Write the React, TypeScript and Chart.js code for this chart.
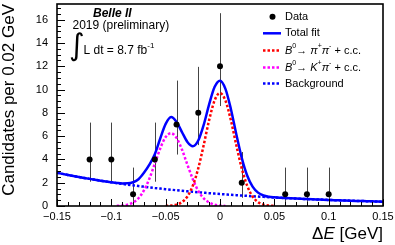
import { useEffect, useRef } from "react";
import { Chart, registerables } from "chart.js";

Chart.register(...registerables);

const FONT = '"Liberation Sans", Arial, Helvetica, sans-serif';

// Data points (bin centres, counts, Poisson 68% interval)
const dataX = [-0.12, -0.1, -0.08, -0.06, -0.04, -0.02, 0, 0.02, 0.06, 0.08, 0.1];
const dataY = [4, 4, 1, 4, 7, 8, 12, 2, 1, 1, 1];
const errLo = [2.086, 2.086, 0.173, 2.086, 4.419, 5.232, 8.585, 0.708, 0.173, 0.173, 0.173];
const errHi = [7.163, 7.163, 3.3, 7.163, 10.77, 11.95, 16.56, 4.638, 3.3, 3.3, 3.3];

// Fit curves
const curveX = [-0.15, -0.145, -0.14, -0.135, -0.13, -0.125, -0.12, -0.115, -0.11, -0.105, -0.1, -0.095, -0.09, -0.085, -0.08, -0.075, -0.07, -0.065, -0.06, -0.055, -0.05, -0.045, -0.04, -0.035, -0.03, -0.025, -0.02, -0.015, -0.01, -0.005, 0, 0.005, 0.01, 0.015, 0.02, 0.025, 0.03, 0.035, 0.04, 0.045, 0.05, 0.055, 0.06, 0.065, 0.07, 0.075, 0.08, 0.085, 0.09, 0.095, 0.1, 0.105, 0.11, 0.115, 0.12, 0.125, 0.13, 0.135, 0.14, 0.145, 0.15];
const totalY = [2.856, 2.761, 2.669, 2.579, 2.493, 2.41, 2.329, 2.251, 2.176, 2.104, 2.036, 1.977, 1.938, 1.945, 2.04, 2.3, 2.85, 3.55, 4.45, 5.8, 7.05, 7.64, 7.22, 6.35, 5.5, 5.129, 5.623, 6.964, 8.731, 10.22, 10.763, 10.063, 8.335, 6.162, 4.136, 2.615, 1.661, 1.149, 0.905, 0.795, 0.743, 0.709, 0.685, 0.662, 0.64, 0.619, 0.598, 0.578, 0.559, 0.54, 0.522, 0.504, 0.488, 0.471, 0.455, 0.44, 0.426, 0.411, 0.398, 0.384, 0.371];
const bkgY = [2.856, 2.761, 2.669, 2.579, 2.493, 2.41, 2.329, 2.251, 2.176, 2.103, 2.033, 1.965, 1.899, 1.836, 1.775, 1.715, 1.658, 1.602, 1.549, 1.497, 1.447, 1.399, 1.352, 1.307, 1.263, 1.221, 1.18, 1.141, 1.102, 1.066, 1.03, 0.996, 0.962, 0.93, 0.899, 0.869, 0.84, 0.812, 0.785, 0.758, 0.733, 0.709, 0.685, 0.662, 0.64, 0.619, 0.598, 0.578, 0.559, 0.54, 0.522, 0.504, 0.488, 0.471, 0.455, 0.44, 0.426, 0.411, 0.398, 0.384, 0.371];
const piPiX = [-0.05, -0.045, -0.04, -0.035, -0.03, -0.025, -0.02, -0.015, -0.01, -0.005, 0, 0.005, 0.01, 0.015, 0.02, 0.025, 0.03, 0.035, 0.04, 0.045, 0.05];
const piPiY = [0.01, 0.037, 0.12, 0.337, 0.821, 1.746, 3.237, 5.232, 7.373, 9.057, 9.7, 9.057, 7.373, 5.232, 3.237, 1.746, 0.821, 0.337, 0.12, 0.037, 0.01];
const kPiX = [-0.095, -0.09, -0.085, -0.08, -0.075, -0.07, -0.065, -0.06, -0.055, -0.05, -0.045, -0.04, -0.035, -0.03, -0.025, -0.02, -0.015, -0.01, -0.005, 0, 0.005];
const kPiY = [0.012, 0.039, 0.114, 0.295, 0.669, 1.335, 2.346, 3.628, 4.941, 5.921, 6.248, 5.85, 4.85, 3.55, 2.3, 1.3, 0.66, 0.3, 0.11, 0.035, 0.01];

// Axes
const xMin = -0.15;
const xMax = 0.15;
const yMin = 0;
const yMax = 17.35;
const xTicks = [-0.15, -0.1, -0.05, 0, 0.05, 0.1, 0.15];
const xTickLabels = ["\u22120.15", "\u22120.1", "\u22120.05", "0", "0.05", "0.1", "0.15"];
const yTicks = [0, 2, 4, 6, 8, 10, 12, 14, 16];
const yTickLabels = ["0", "2", "4", "6", "8", "10", "12", "14", "16"];
const xMinorStep = 0.01;
const yMinorStep = 0.5;

type Seg = { t: string; it?: boolean; sup?: boolean; b?: boolean };

function drawRich(ctx: CanvasRenderingContext2D, x: number, y: number, segs: Seg[], size: number, measureOnly = false) {
  let cx = x;
  for (const s of segs) {
    const fs = s.sup ? Math.round(size * 0.68) : size;
    ctx.font = `${s.it ? "italic " : ""}${s.b ? "bold " : ""}${fs}px ${FONT}`;
    const dy = s.sup ? -size * 0.42 : 0;
    if (!measureOnly) ctx.fillText(s.t, cx, y + dy);
    cx += ctx.measureText(s.t).width;
  }
  return cx - x;
}

const legendRows: { kind: string; color: string; segs: Seg[] }[] = [
  { kind: "marker", color: "#000", segs: [{ t: "Data" }] },
  { kind: "solid", color: "#0000ff", segs: [{ t: "Total fit" }] },
  { kind: "dot", color: "#ff0000", segs: [{ t: "B", it: true }, { t: "0", sup: true }, { t: "\u2192 " }, { t: "\u03c0", it: true }, { t: "+", sup: true }, { t: "\u03c0", it: true }, { t: "-", sup: true }, { t: " + c.c." }] },
  { kind: "dot", color: "#ff00ff", segs: [{ t: "B", it: true }, { t: "0", sup: true }, { t: "\u2192 " }, { t: "K", it: true }, { t: "+", sup: true }, { t: "\u03c0", it: true }, { t: "-", sup: true }, { t: " + c.c." }] },
  { kind: "dot", color: "#0000ff", segs: [{ t: "Background" }] },
];

const rootPlugin = {
  id: "rootStyle",
  beforeDatasetsDraw(chart: any) {
    const { ctx, scales } = chart;
    const xs = scales.x;
    const ys = scales.y;
    ctx.save();
    ctx.strokeStyle = "#444";
    ctx.lineWidth = 1;
    ctx.beginPath();
    for (let i = 0; i < dataX.length; i++) {
      const px = Math.round(xs.getPixelForValue(dataX[i])) + 0.5;
      ctx.moveTo(px, ys.getPixelForValue(errLo[i]));
      ctx.lineTo(px, ys.getPixelForValue(errHi[i]));
    }
    ctx.stroke();
    ctx.restore();
  },
  afterDraw(chart: any) {
    const { ctx, chartArea, scales } = chart;
    const xs = scales.x;
    const ys = scales.y;
    const { left, right, top, bottom } = chartArea;
    ctx.save();
    ctx.fillStyle = "#000";
    ctx.strokeStyle = "#000";
    // frame
    ctx.lineWidth = 1.6;
    ctx.strokeRect(left, top, right - left, bottom - top);
    // ticks
    ctx.lineWidth = 1;
    ctx.beginPath();
    const nx = Math.round((xMax - xMin) / xMinorStep);
    for (let i = 0; i <= nx; i++) {
      const v = xMin + i * xMinorStep;
      const major = xTicks.some((t) => Math.abs(t - v) < 1e-9);
      const px = Math.round(xs.getPixelForValue(v)) + 0.5;
      ctx.moveTo(px, bottom);
      ctx.lineTo(px, bottom - (major ? 7 : 4));
    }
    const ny = Math.floor((yMax - yMin) / yMinorStep);
    for (let i = 0; i <= ny; i++) {
      const v = yMin + i * yMinorStep;
      const major = yTicks.some((t) => Math.abs(t - v) < 1e-9);
      const py = Math.round(ys.getPixelForValue(v)) + 0.5;
      ctx.moveTo(left, py);
      ctx.lineTo(left + (major ? 8 : 4), py);
    }
    ctx.stroke();
    // tick labels
    ctx.font = `11px ${FONT}`;
    ctx.textAlign = "center";
    ctx.textBaseline = "top";
    xTicks.forEach((v, i) => ctx.fillText(xTickLabels[i], xs.getPixelForValue(v), bottom + 5));
    ctx.textAlign = "right";
    ctx.textBaseline = "middle";
    yTicks.forEach((v, i) => ctx.fillText(yTickLabels[i], left - 9, ys.getPixelForValue(v)));
    // x title
    ctx.textAlign = "left";
    ctx.textBaseline = "alphabetic";
    const xt: Seg[] = [{ t: "\u0394" }, { t: "E", it: true }, { t: " [GeV]" }];
    const w = drawRich(ctx, 0, 0, xt, 17, true);
    drawRich(ctx, right - w, 239, xt, 17);
    // y title
    ctx.save();
    ctx.translate(14, top);
    ctx.rotate(-Math.PI / 2);
    ctx.font = `17px ${FONT}`;
    ctx.textAlign = "right";
    ctx.fillText("Candidates per 0.02 GeV", 0, 0);
    ctx.restore();
    // annotations
    ctx.textAlign = "left";
    ctx.textBaseline = "middle";
    ctx.font = `italic bold 12px ${FONT}`;
    ctx.fillText("Belle II", 93, 14);
    ctx.font = `12px ${FONT}`;
    ctx.fillText("2019 (preliminary)", 72.5, 26);
    ctx.font = `30px "DejaVu Sans", ${FONT}`;
    ctx.fillText("\u222b", 69, 47);
    drawRich(ctx, 83.5, 51, [{ t: "L dt = 8.7 fb" }, { t: "-1", sup: true }], 12);
    // legend
    const rowY = [16.7, 33.3, 50.5, 67.5, 83.5];
    legendRows.forEach((r, i) => {
      const y = rowY[i];
      ctx.strokeStyle = r.color;
      ctx.fillStyle = r.color;
      if (r.kind === "marker") {
        ctx.beginPath();
        ctx.arc(272.5, y, 3, 0, Math.PI * 2);
        ctx.fill();
      } else {
        ctx.lineWidth = 2.5;
        ctx.setLineDash(r.kind === "dot" ? [2.5, 2] : []);
        ctx.beginPath();
        ctx.moveTo(263, y);
        ctx.lineTo(281, y);
        ctx.stroke();
        ctx.setLineDash([]);
      }
      ctx.fillStyle = "#000";
      drawRich(ctx, 285, y, r.segs, 11);
    });
    ctx.restore();
  },
};

export default function App() {
  const ref = useRef<HTMLCanvasElement | null>(null);
  useEffect(() => {
    document.body.style.margin = "0";
    const canvas = ref.current!;
    const pts = (xa: number[], ya: number[]) => xa.map((x, i) => ({ x, y: ya[i] }));
    const chart = new Chart(canvas, {
      type: "line",
      data: {
        datasets: [
          { label: "Data", data: pts(dataX, dataY), showLine: false, pointRadius: 3, pointBackgroundColor: "#000", pointBorderWidth: 0, order: 0 } as any,
          { label: "pipi", data: pts(piPiX, piPiY), borderColor: "#ff0000", borderWidth: 2.5, borderDash: [2.5, 2], pointRadius: 0, cubicInterpolationMode: "monotone", order: 1 } as any,
          { label: "Kpi", data: pts(kPiX, kPiY), borderColor: "#ff00ff", borderWidth: 2.5, borderDash: [2.5, 2], pointRadius: 0, cubicInterpolationMode: "monotone", order: 2 } as any,
          { label: "Total", data: pts(curveX, totalY), borderColor: "#0000ff", borderWidth: 2.5, pointRadius: 0, cubicInterpolationMode: "monotone", order: 3 } as any,
          { label: "Bkg", data: pts(curveX, bkgY), borderColor: "#0000ff", borderWidth: 2.5, borderDash: [2.5, 2], pointRadius: 0, cubicInterpolationMode: "monotone", order: 4 } as any,
        ],
      },
      options: {
        responsive: false,
        animation: false,
        layout: { padding: { left: 57, right: 12, top: 3, bottom: 39 } },
        plugins: { legend: { display: false }, tooltip: { enabled: false } },
        scales: {
          x: { type: "linear", min: xMin, max: xMax, display: false },
          y: { type: "linear", min: yMin, max: yMax, display: false },
        },
      },
      plugins: [rootPlugin],
    });
    return () => chart.destroy();
  }, []);
  return <canvas ref={ref} width={395} height={245} style={{ display: "block" }} />;
}
